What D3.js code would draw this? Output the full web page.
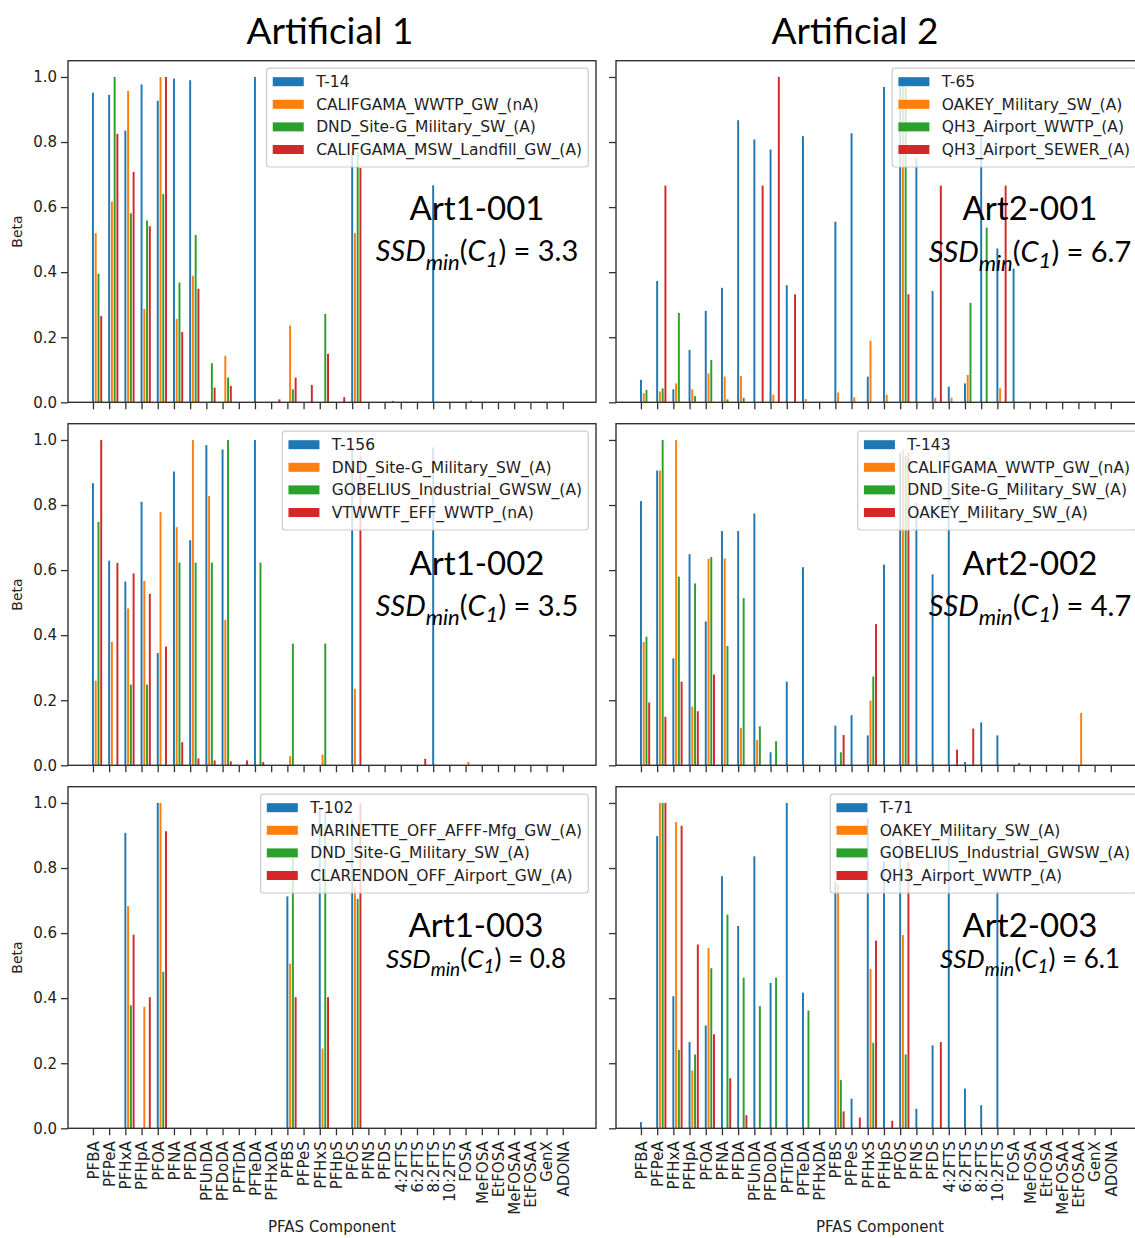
<!DOCTYPE html>
<html><head><meta charset="utf-8">
<script src="https://cdn.jsdelivr.net/npm/d3@7"></script>
<style>body{margin:0;background:#fff}svg{display:block}</style>
</head><body>
<svg id="c" width="1135" height="1238"></svg>
<script>
const categories = ["PFBA","PFPeA","PFHxA","PFHpA","PFOA","PFNA","PFDA","PFUnDA","PFDoDA","PFTrDA","PFTeDA","PFHxDA","PFBS","PFPeS","PFHxS","PFHpS","PFOS","PFNS","PFDS","4:2FTS","6:2FTS","8:2FTS","10:2FTS","FOSA","MeFOSA","EtFOSA","MeFOSAA","EtFOSAA","GenX","ADONA"];
const yTicks = [0,0.2,0.4,0.6,0.8,1.0];
const colors = ["#1f77b4","#ff7f0e","#2ca02c","#d62728"];
const columnTitles = ["Artificial 1","Artificial 2"];

// Art1-001
const art1_001_names = ["T-14","CALIFGAMA_WWTP_GW_(nA)","DND_Site-G_Military_SW_(A)","CALIFGAMA_MSW_Landfill_GW_(A)"];
const art1_001_s1 = [0.952,0.945,0.835,0.977,0.927,0.995,0.990,0,0,0,1.000,0,0,0,0,0,0.770,0,0,0,0,0.667,0,0,0,0,0,0,0,0];
const art1_001_s2 = [0.520,0.617,0.957,0.287,1.000,0.256,0.389,0,0.143,0,0,0,0.236,0,0,0,0.520,0,0,0,0,0,0,0,0,0,0,0,0,0];
const art1_001_s3 = [0.395,1.000,0.581,0.559,0.640,0.368,0.514,0.120,0.076,0,0,0,0.040,0,0.272,0,0.770,0,0,0,0,0,0,0.005,0,0,0,0,0,0];
const art1_001_s4 = [0.265,0.825,0.708,0.541,1.000,0.216,0.349,0.045,0.050,0,0,0.009,0.076,0.053,0.149,0.016,0.720,0,0.004,0,0,0,0,0,0,0,0,0,0,0];

// Art2-001
const art2_001_names = ["T-65","OAKEY_Military_SW_(A)","QH3_Airport_WWTP_(A)","QH3_Airport_SEWER_(A)"];
const art2_001_s1 = [0.069,0.373,0.040,0.161,0.281,0.352,0.867,0.808,0.777,0.360,0.818,0,0.555,0.827,0.079,0.969,0.970,0.750,0.342,0.048,0.058,0.815,0.473,0.411,0,0,0,0,0,0];
const art2_001_s2 = [0.028,0.033,0.058,0.040,0.089,0.079,0.081,0,0.023,0,0.010,0,0.030,0.015,0.189,0.023,1.000,0,0.014,0.014,0.084,0,0.043,0,0,0,0,0,0,0];
const art2_001_s3 = [0.038,0.043,0.275,0.019,0.130,0.009,0.014,0,0,0,0,0,0,0,0,0,0.970,0,0,0,0.306,0.537,0,0,0,0,0,0,0,0];
const art2_001_s4 = [0,0.666,0,0,0,0,0,0.666,1.000,0.332,0,0,0,0,0,0,0.332,0,0.666,0,0,0,0.666,0,0,0,0,0,0,0];

// Art1-002
const art1_002_names = ["T-156","DND_Site-G_Military_SW_(A)","GOBELIUS_Industrial_GWSW_(A)","VTWWTF_EFF_WWTP_(nA)"];
const art1_002_s1 = [0.867,0.629,0.565,0.810,0.345,0.903,0.692,0.984,0.971,0,1.000,0,0,0,0,0,0.970,0,0,0,0,0.977,0,0,0,0,0,0,0,0];
const art1_002_s2 = [0.260,0.379,0.482,0.567,0.778,0.732,1.000,0.828,0.447,0,0,0,0.028,0,0.033,0,0.235,0,0,0,0,0,0,0.010,0,0,0,0,0,0];
const art1_002_s3 = [0.748,0,0.248,0.248,0,0.623,0.623,0.623,1.000,0,0.623,0,0.374,0,0.374,0,0,0,0,0,0,0,0,0,0,0,0,0,0,0];
const art1_002_s4 = [1.000,0.622,0.590,0.527,0.365,0.071,0.021,0.015,0.012,0.015,0.010,0,0,0,0,0,0.950,0,0,0,0.020,0,0,0,0,0,0,0,0,0];

// Art2-002
const art2_002_names = ["T-143","CALIFGAMA_WWTP_GW_(nA)","DND_Site-G_Military_SW_(A)","OAKEY_Military_SW_(A)"];
const art2_002_s1 = [0.812,0.906,0.329,0.649,0.442,0.720,0.720,0.774,0.040,0.257,0.609,0,0.122,0.154,0.092,0.617,0.960,0.806,0.587,0.990,0.010,0.132,0.092,0,0,0,0,0,0,0];
const art2_002_s2 = [0.379,0.906,1.000,0.181,0.635,0.636,0.115,0.078,0,0,0,0,0,0,0.199,0,0.970,0,0,0,0,0,0,0,0,0,0,0.161,0,0];
const art2_002_s3 = [0.395,1.000,0.580,0.559,0.640,0.367,0.514,0.120,0.074,0,0,0,0.040,0,0.273,0,0.950,0,0,0,0,0,0,0.007,0,0,0,0,0,0];
const art2_002_s4 = [0.193,0.149,0.257,0.166,0.279,0,0,0,0,0,0,0,0.093,0,0.434,0,0.960,0,0,0.048,0.113,0,0,0,0,0,0,0,0,0];

// Art1-003
const art1_003_names = ["T-102","MARINETTE_OFF_AFFF-Mfg_GW_(A)","DND_Site-G_Military_SW_(A)","CLARENDON_OFF_Airport_GW_(A)"];
const art1_003_s1 = [0,0,0.908,0,1.000,0,0,0,0,0,0,0,0.713,0,0.980,0,0.950,0,0,0,0,0,0,0,0,0,0,0,0,0];
const art1_003_s2 = [0,0,0.683,0.373,1.000,0,0,0,0,0,0,0,0.506,0,0.245,0,0.740,0,0,0,0,0,0,0,0,0,0,0,0,0];
const art1_003_s3 = [0,0,0.378,0,0.481,0,0,0,0,0,0,0,0.830,0,0.970,0,0.705,0,0,0,0,0,0,0,0,0,0,0,0,0];
const art1_003_s4 = [0,0,0.595,0.403,0.913,0,0,0,0,0,0,0,0.403,0,0.403,0,1.000,0,0,0,0,0,0,0,0,0,0,0,0,0];

// Art2-003
const art2_003_names = ["T-71","OAKEY_Military_SW_(A)","GOBELIUS_Industrial_GWSW_(A)","QH3_Airport_WWTP_(A)"];
const art2_003_s1 = [0.019,0.898,0.406,0.265,0.316,0.775,0.622,0.836,0.447,1.000,0.417,0,0.760,0.091,0.954,0.820,0.887,0.060,0.255,0.918,0.122,0.071,0.730,0,0,0,0,0,0,0];
const art2_003_s2 = [0,1.000,0.941,0.178,0.554,0,0,0,0,0,0,0,0.750,0,0.490,0,0.594,0,0,0,0,0,0,0,0,0,0,0,0,0];
const art2_003_s3 = [0,1.000,0.241,0.227,0.492,0.657,0.463,0.376,0.463,0,0.362,0,0.148,0,0.263,0,0.227,0,0,0,0,0,0,0,0,0,0,0,0,0];
const art2_003_s4 = [0,1.000,0.930,0.565,0.289,0.154,0.040,0,0,0,0,0,0.052,0.033,0.577,0.023,0.818,0,0.265,0,0,0,0,0,0,0,0,0,0,0];

const panelLabels = ["Art1-001","Art2-001","Art1-002","Art2-002","Art1-003","Art2-003"];
const ssdValues = ["3.3","6.7","3.5","4.7","0.8","6.1"];

const panels = [
  {row:0,col:0,label:panelLabels[0],ssd:ssdValues[0],names:art1_001_names,series:[art1_001_s1,art1_001_s2,art1_001_s3,art1_001_s4]},
  {row:0,col:1,label:panelLabels[1],ssd:ssdValues[1],names:art2_001_names,series:[art2_001_s1,art2_001_s2,art2_001_s3,art2_001_s4]},
  {row:1,col:0,label:panelLabels[2],ssd:ssdValues[2],names:art1_002_names,series:[art1_002_s1,art1_002_s2,art1_002_s3,art1_002_s4]},
  {row:1,col:1,label:panelLabels[3],ssd:ssdValues[3],names:art2_002_names,series:[art2_002_s1,art2_002_s2,art2_002_s3,art2_002_s4]},
  {row:2,col:0,label:panelLabels[4],ssd:ssdValues[4],names:art1_003_names,series:[art1_003_s1,art1_003_s2,art1_003_s3,art1_003_s4]},
  {row:2,col:1,label:panelLabels[5],ssd:ssdValues[5],names:art2_003_names,series:[art2_003_s1,art2_003_s2,art2_003_s3,art2_003_s4]}
];

const svg = d3.select("#c");
svg.append("rect").attr("width",1135).attr("height",1238).attr("fill","#fff");

const colLeft = [68, 616], panelW = 528;
const rowTop = [60.7, 423.7, 786.7], panelH = 341.6;
const step = 0.17, barW = 0.12;
const axisFont = "'DejaVu Sans', sans-serif";
const annFont = "Lato, 'Open Sans', sans-serif";

// annotation layout per panel: [label center x, label baseline, ssd baseline, big?]
const annPos = [
  [477, 220, 260.5, true],[1030, 220, 261.5, true],
  [477, 575, 615.5, true],[1030, 575, 615.5, true],
  [476, 937, 968, false],[1030, 937, 968, false]
];

panels.forEach((p, pi) => {
  const L = colLeft[p.col], T = rowTop[p.row];
  const x = d3.scaleLinear().domain([-1.54, 31.05]).range([L, L + panelW]);
  const y = d3.scaleLinear().domain([0, 1.05]).range([T + panelH, T]);
  const g = svg.append("g");
  const bw = x(barW) - x(0);

  // bars
  p.series.forEach((vals, k) => {
    g.append("g").selectAll("rect").data(vals.map((v,i)=>({v,i})).filter(d=>d.v>0)).join("rect")
      .attr("x", d => x(d.i + k*step) - bw/2)
      .attr("y", d => y(d.v))
      .attr("width", bw)
      .attr("height", d => y(0) - y(d.v))
      .attr("fill", colors[k]);
  });

  // axes
  const isBottom = p.row === 2, isLeft = p.col === 0;
  const xa = g.append("g").attr("transform", `translate(0,${T+panelH})`)
    .call(d3.axisBottom(x).tickValues(d3.range(categories.length)).tickSize(7).tickSizeOuter(0)
      .tickFormat(i => isBottom ? categories[i] : ""));
  xa.select(".domain").remove();
  xa.selectAll("line").attr("stroke","#333").attr("stroke-width",1.3);
  xa.selectAll("text").attr("font-family",axisFont).attr("font-size",15).attr("fill","#222")
    .attr("transform","rotate(-90)").attr("x",-13).attr("y",0).attr("dy","0.35em").attr("text-anchor","end");

  const ya = g.append("g").attr("transform", `translate(${L},0)`)
    .call(d3.axisLeft(y).tickValues(yTicks).tickSize(7).tickSizeOuter(0)
      .tickFormat(v => isLeft ? d3.format(".1f")(v) : ""));
  ya.select(".domain").remove();
  ya.selectAll("line").attr("stroke","#333").attr("stroke-width",1.3);
  ya.selectAll("text").attr("font-family",axisFont).attr("font-size",15).attr("fill","#222").attr("x",-11);

  // frame
  g.append("rect").attr("x",L).attr("y",T).attr("width",panelW).attr("height",panelH)
    .attr("fill","none").attr("stroke","#333").attr("stroke-width",1.4);

  if (isLeft) {
    g.append("text").attr("transform",`translate(22,${T+panelH/2}) rotate(-90)`)
      .attr("text-anchor","middle").attr("font-family",axisFont).attr("font-size",14).attr("fill","#222").text("Beta");
  }
  if (isBottom) {
    g.append("text").attr("x",L+panelW/2).attr("y",1232).attr("text-anchor","middle")
      .attr("font-family",axisFont).attr("font-size",15).attr("fill","#222").text("PFAS Component");
  }

  // legend
  const fs = 15.5, pad = 0.4*fs, hl = 2*fs, htp = 0.8*fs, rowH = 22.6;
  const lg = g.append("g");
  const texts = p.names.map((n,k) => lg.append("text").attr("font-family",axisFont).attr("font-size",fs).attr("fill","#222").text(n));
  const tw = d3.max(texts, t => t.node().getComputedTextLength());
  const boxW = pad + hl + htp + tw + pad;
  const boxH = pad*2 + rowH*4 - 4;
  const bx = L + panelW - 7.75 - boxW, by = T + 7.5;
  lg.insert("rect","text").attr("x",bx).attr("y",by).attr("width",boxW).attr("height",boxH).attr("rx",3)
    .attr("fill","#fff").attr("fill-opacity",0.8).attr("stroke","#ccc").attr("stroke-width",1.2);
  p.names.forEach((n,k) => {
    const cy = by + 13.5 + k*rowH;
    lg.append("rect").attr("x",bx+pad).attr("y",cy-4.5).attr("width",hl).attr("height",9).attr("fill",colors[k]);
    texts[k].attr("x",bx+pad+hl+htp).attr("y",cy).attr("dy","0.36em");
  });

  // annotations
  const [ax, aby, sby, big] = annPos[pi];
  g.append("text").attr("x",ax).attr("y",aby).attr("text-anchor","middle")
    .attr("font-family",annFont).attr("font-size",33).attr("fill","#000").text(p.label);
  const sf = big ? 29 : 26, sub = big ? 22 : 19, d1 = big ? 9 : 8, d2 = big ? 6 : 5;
  const st = g.append("text").attr("x",ax).attr("y",sby).attr("text-anchor","middle")
    .attr("font-family",annFont).attr("font-size",sf).attr("fill","#000");
  st.append("tspan").attr("font-style","italic").text("SSD");
  st.append("tspan").attr("font-style","italic").attr("font-size",sub).attr("dy",d1).text("min");
  st.append("tspan").attr("dy",-d1).text("(");
  st.append("tspan").attr("font-style","italic").text("C");
  st.append("tspan").attr("font-style","italic").attr("font-size",sub).attr("dy",d2).text("1");
  st.append("tspan").attr("dy",-d2).text(") = " + p.ssd);
});

// column titles
svg.append("text").attr("x",330).attr("y",44).attr("text-anchor","middle").attr("font-family",annFont)
  .attr("font-size",37).attr("fill","#000").text(columnTitles[0]);
svg.append("text").attr("x",855).attr("y",44).attr("text-anchor","middle").attr("font-family",annFont)
  .attr("font-size",37).attr("fill","#000").text(columnTitles[1]);
</script>
</body></html>
